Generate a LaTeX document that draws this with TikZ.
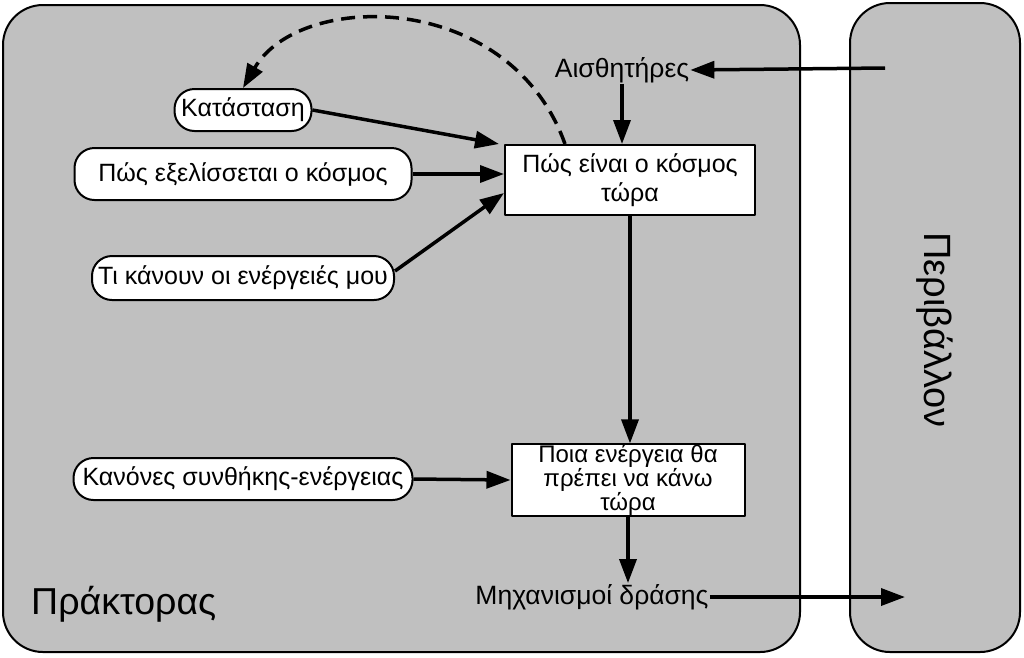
\documentclass[tikz,border=0pt]{standalone}
\usepackage{fontspec}
\setmainfont{Liberation Sans}
\usetikzlibrary{arrows.meta,calc}
\definecolor{framegrey}{RGB}{192,192,192}

\begin{document}
\begin{tikzpicture}[x=1pt, y=-1pt, line join=round,
	txt/.style={font=\fontsize{25}{29}\selectfont, inner sep=1pt},
	pill/.style={txt, draw, fill=white, line width=2pt, rounded corners=20pt, inner sep=0pt},
	box/.style={txt, draw, fill=white, line width=2pt, inner sep=0pt, align=center},
	arr/.style={line width=3.5pt, -{Triangle[length=24pt,width=17pt]}}]
				\useasboundingbox (0,0) rectangle (1024,657);
				\draw[fill=framegrey, line width=2pt, rounded corners=40pt] (3,5) rectangle (800,652);
				\draw[fill=framegrey, line width=2pt, rounded corners=40pt] (850,3) rectangle (1020,652);
				\foreach \n/\y/\w/\h/\t in {st/110/137/42/Κατάσταση,ev/174/337/52/Πώς εξελίσσεται ο κόσμος,ac/278/302/44/Τι κάνουν οι ενέργειές μου,ru/479/339/42/Κανόνες συνθήκης-ενέργειας}
				\node[pill, minimum width=\w, minimum height=\h] (\n) at (243,\y) {\t};
				\node[box, minimum width=250, minimum height=70] (now) at (630,180) {Πώς είναι ο κόσμος\\τώρα};
				\node[box, minimum width=233, minimum height=70, font=\fontsize{24}{20}\selectfont] (act) at (628,480) {Ποια ενέργεια θα\\πρέπει να κάνω\\τώρα};
				\node[txt, font=\fontsize{26.5}{30}\selectfont] (sen) at (622,70) {Αισθητήρες};
				\node[txt, font=\fontsize{26.5}{30}\selectfont] (eff) at (592,597) {Μηχανισμοί δράσης};
				\node[txt, anchor=west, font=\fontsize{37.5}{40}\selectfont] (ag) at (30,604) {Πράκτορας};
				\node[txt, rotate=-90, font=\fontsize{38}{40}\selectfont] (env) at (935,330) {Περιβάλλον};
				\coordinate (in) at (885,68);
				\coordinate (out) at (905,597);
				\draw[arr] (in) -- (sen.east);
				\draw[arr] (sen.south) -- (sen.south |- now.north);
				\draw[arr] (st.east) -- ([xshift=-5pt]now.north west);
				\draw[arr] (ev.east) -- (ev.east -| now.west);
				\draw[arr] ([yshift=7pt]ac.east) -- ([yshift=-13pt]now.west);
				\draw[arr] (now.south) -- (now.south |- act.north);
				\draw[arr] (ru.east) -- (act.west);
				\draw[arr] (act.south) -- (act.south |- eff.north);
				\draw[arr] (eff.east) -- (out);
				\draw[arr, dash pattern=on 14pt off 8pt] ([xshift=-65pt]now.north) .. controls (510,-10) and (300,-10) .. (st.north);
		\end{tikzpicture}
\end{document}
